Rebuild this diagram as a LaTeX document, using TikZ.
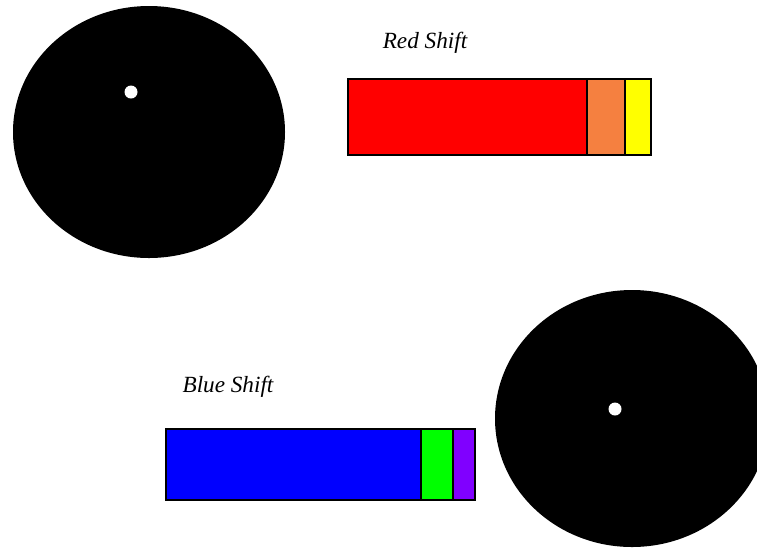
\documentclass[tikz,border=0pt]{standalone}
\usepackage{fontspec}
\setmainfont{Liberation Serif}
\usetikzlibrary{positioning}
\definecolor{shiftRed}{RGB}{255,0,0}
\definecolor{shiftOrange}{RGB}{245,128,64}
\definecolor{shiftYellow}{RGB}{255,255,0}
\definecolor{shiftBlue}{RGB}{0,0,255}
\definecolor{shiftGreen}{RGB}{0,255,0}
\definecolor{shiftPurple}{RGB}{128,0,255}

\tikzset{
  band/.style={draw=black, line width=0.9pt},
  shiftlabel/.style={font=\itshape\fontsize{13.2}{15}\selectfont, inner sep=0pt},
  hole/.style={fill=white}
}

\begin{document}
\begin{tikzpicture}[x=0.02cm, y=-0.02cm]
\useasboundingbox (0,0) rectangle (757,549);
\clip (0,0) rectangle (757,549);

% stars
\fill[black] (149,132) ellipse [x radius=136, y radius=126];
\fill[hole] (131,92) circle [radius=6.5];
\fill[black] (632,418.5) ellipse [x radius=137, y radius=128.5];
\fill[hole] (615,409) circle [radius=6.5];

% red shift spectrum
\node[shiftlabel] (redlabel) at (425,43) {Red Shift};
\draw[band, fill=shiftRed] (348,79) rectangle (587,155);
\draw[band, fill=shiftOrange] (587,79) rectangle (625,155);
\draw[band, fill=shiftYellow] (625,79) rectangle (651,155);

% blue shift spectrum
\node[shiftlabel] (bluelabel) at (228,387) {Blue Shift};
\draw[band, fill=shiftBlue] (166,429) rectangle (421,500);
\draw[band, fill=shiftGreen] (421,429) rectangle (453,500);
\draw[band, fill=shiftPurple] (453,429) rectangle (475,500);
\end{tikzpicture}
\end{document}
